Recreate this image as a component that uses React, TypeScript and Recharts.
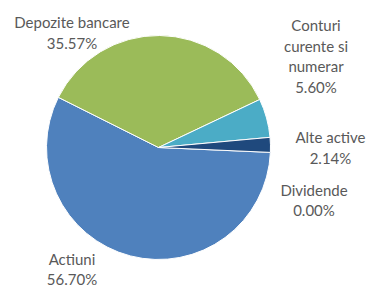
import React from "react";
import { PieChart, Pie, Cell } from "recharts";

const categories = ["Actiuni", "Depozite bancare", "Conturi curente si numerar", "Alte active", "Dividende"];
const labelLines = [["Actiuni"], ["Depozite bancare"], ["Conturi", "curente si", "numerar"], ["Alte active"], ["Dividende"]];
const values = [56.7, 35.57, 5.6, 2.14, 0.0];
const colors = ["#4F81BD", "#9BBB59", "#4BACC6", "#1F497D", "#8064A2"];

// label block centre offsets relative to pie centre (layout only)
const labelOffsets = [
  { dx: -86.5, dy: 121.5 },
  { dx: -86.5, dy: -115 },
  { dx: 157.5, dy: -91.5 },
  { dx: 172, dy: 0 },
  { dx: 155.5, dy: 52.5 },
];

const data = categories.map((name, i) => ({ name, value: values[i] }));

const LINE_H = 20.5;

const renderLabel = (props: any) => {
  const { cx, cy, index } = props;
  const off = labelOffsets[index];
  const lines = [...labelLines[index], values[index].toFixed(2) + "%"];
  const x = cx + off.dx;
  const y0 = cy + off.dy - ((lines.length - 1) * LINE_H) / 2;
  return (
    <text
      key={"lbl" + index}
      x={x}
      y={y0}
      textAnchor="middle"
      fill="#595959"
      fontFamily="Lato, 'Open Sans', sans-serif"
      fontSize={15}
    >
      {lines.map((l, k) => (
        <tspan key={k} x={x} y={y0 + k * LINE_H} dominantBaseline="central">
          {l}
        </tspan>
      ))}
    </text>
  );
};

export default function App() {
  return (
    <div style={{ position: "absolute", left: 0, top: 0, width: 372, height: 287, background: "#fff" }}>
      <PieChart width={372} height={287} margin={{ top: 0, right: 0, bottom: 0, left: 0 }}>
        <Pie
          data={data}
          dataKey="value"
          nameKey="name"
          cx={158.5}
          cy={147.5}
          outerRadius={112}
          startAngle={-2.5}
          endAngle={-362.5}
          stroke="#ffffff"
          strokeWidth={1}
          label={renderLabel}
          labelLine={false}
          isAnimationActive={false}
        >
          {data.map((d, i) => (
            <Cell key={d.name} fill={colors[i]} />
          ))}
        </Pie>
      </PieChart>
    </div>
  );
}
